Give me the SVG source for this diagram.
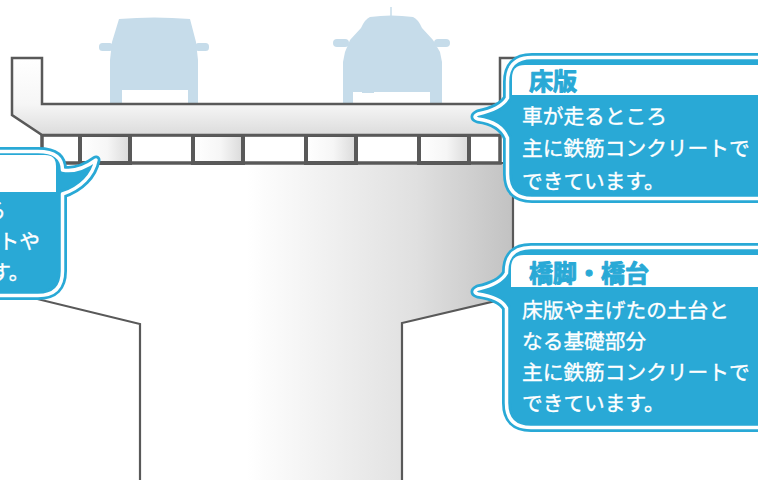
<svg xmlns="http://www.w3.org/2000/svg" width="758" height="480" viewBox="0 0 758 480">
  <defs>
    <linearGradient id="pierFill" gradientUnits="userSpaceOnUse" x1="29" y1="0" x2="513" y2="0">
      <stop offset="0" stop-color="#ffffff"/>
      <stop offset="0.45" stop-color="#ffffff"/>
      <stop offset="0.62" stop-color="#f0f0f0"/>
      <stop offset="0.8" stop-color="#e0e0e0"/>
      <stop offset="1" stop-color="#c2c2c2"/>
    </linearGradient>
    <linearGradient id="deckFill" x1="0" y1="0" x2="0" y2="1">
      <stop offset="0" stop-color="#ffffff"/>
      <stop offset="0.6" stop-color="#f6f6f6"/>
      <stop offset="1" stop-color="#dcdcdc"/>
    </linearGradient>
    <linearGradient id="girderFill" x1="0" y1="0" x2="1" y2="0">
      <stop offset="0" stop-color="#ffffff"/>
      <stop offset="0.55" stop-color="#f6f6f6"/>
      <stop offset="1" stop-color="#dadada"/>
    </linearGradient>
    <style>
      .car { fill: #c6dcea; }
      .line { stroke: #595959; stroke-linejoin: miter; }
      .bubble { fill: #29a9d6; stroke: #29a9d6; stroke-width: 9; stroke-linejoin: round; }
      .rim { fill: none; stroke: #ffffff; stroke-width: 3.5; stroke-linejoin: round; }
      .hdr-band { fill: #ffffff; }
      .hdr { font-family: "Noto Sans CJK JP", "Noto Sans CJK SC", sans-serif; font-weight: 700; font-size: 24px; fill: #29a9d6; stroke: #29a9d6; stroke-width: 1; stroke-linejoin: round; }
      .txt { font-family: "Noto Sans CJK JP", "Noto Sans CJK SC", sans-serif; font-size: 20.7px; fill: #ffffff; stroke: #ffffff; stroke-width: 0.35; }
    </style>
  </defs>

  <rect width="758" height="480" fill="#ffffff"/>

  <!-- vehicles on the deck -->
  <g id="car-left">
    <path class="car" d="M119,19 Q154,16 190,19 L196,42 L198,60 L198,103 L188,103 L188,90 L122,90 L122,103 L110,103 L110,60 L112,42 Z"/>
    <rect class="car" x="99" y="43" width="14" height="8" rx="3.5"/>
    <rect class="car" x="195" y="43" width="14" height="8" rx="3.5"/>
  </g>
  <g id="car-right">
    <line x1="391" y1="7" x2="391" y2="18" stroke="#c6dcea" stroke-width="1.5"/>
    <path class="car" d="M370,17 Q391,14 413,17 Q418,19 422,28 L433,40 L440,52 L442,62 L442,103 L430,103 L430,92 L353,92 L353,103 L343,103 L343,62 L345,52 L350,40 L361,28 Q365,19 370,17 Z"/>
    <rect class="car" x="333" y="39" width="16" height="8" rx="4"/>
    <rect class="car" x="434" y="39" width="16" height="8" rx="4"/>
    <rect class="car" x="362" y="89" width="12" height="4" fill="#ffffff"/>
  </g>

  <!-- pier: column with widened head -->
  <g id="pier">
    <path d="M29,163 H513 V297 L402,323 V482 H140 V324 L29,297 Z" fill="url(#pierFill)" class="line" stroke-width="2.2"/>
  </g>

  <!-- main girders between deck slab and pier -->
  <g id="girders">
    <rect x="42" y="135" width="458" height="28" fill="#ffffff" class="line" stroke-width="3.5"/>
    <rect x="80" y="135" width="50" height="28" fill="url(#girderFill)" class="line" stroke-width="4"/>
    <rect x="193" y="135" width="50" height="28" fill="url(#girderFill)" class="line" stroke-width="4"/>
    <rect x="306" y="135" width="50" height="28" fill="url(#girderFill)" class="line" stroke-width="4"/>
    <rect x="419" y="135" width="50" height="28" fill="url(#girderFill)" class="line" stroke-width="4"/>
  </g>

  <!-- deck slab with parapets -->
  <g id="deck">
    <path d="M12,58 H42 V104 H500 V58 H530 V115 L500,135 H42 L12,115 Z" fill="url(#deckFill)" class="line" stroke-width="2.5"/>
  </g>

  <!-- callout: girders (left, partly outside the frame) -->
  <g id="callout-girder">
    <path class="bubble" d="M-100,151.5 H38 Q62.5,151.5 62.5,170 C73,172 85,168 96,160 C93,175 81,188 62.5,194 V271 Q62.5,295.5 38,295.5 H-100 Z"/>
    <path class="rim" d="M-100,151.5 H38 Q62.5,151.5 62.5,170 C73,172 85,168 96,160 C93,175 81,188 62.5,194 V271 Q62.5,295.5 38,295.5 H-100 Z"/>
    <path class="hdr-band" d="M-100,155 H45 Q56,155 56,166 V192 H-100 Z"/>
    <text class="txt" x="6" y="218" text-anchor="end">る</text>
    <text class="txt" x="40" y="249" text-anchor="end">トや</text>
    <text class="txt" x="29.5" y="280" text-anchor="end">す。</text>
  </g>

  <!-- callout: deck slab -->
  <g id="callout-slab">
    <path class="bubble" d="M532,57.5 H790 V198.5 H532 Q507.5,198.5 507.5,174 V138 C503,127 493,121 478,119 Q472,117 478,114 C492,111 503,106 507.5,98 V82 Q507.5,57.5 532,57.5 Z"/>
    <path class="rim" d="M532,57.5 H790 V198.5 H532 Q507.5,198.5 507.5,174 V138 C503,127 493,121 478,119 Q472,117 478,114 C492,111 503,106 507.5,98 V82 Q507.5,57.5 532,57.5 Z"/>
    <path class="hdr-band" d="M512,95 V78 Q512,65 525,65 H790 V95 Z"/>
    <text class="hdr" x="529" y="89.5">床版</text>
    <text class="txt" x="522" y="124">車が走るところ</text>
    <text class="txt" x="522" y="156">主に鉄筋コンクリートで</text>
    <text class="txt" x="522" y="188.5">できています。</text>
  </g>

  <!-- callout: piers and abutments -->
  <g id="callout-pier">
    <path class="bubble" d="M531,247.5 H790 V427.5 H531 Q506.5,427.5 506.5,403 V308 C502,300 492,296 478,294 Q472,292 478,289 C492,286 502,281 506.5,273 V272 Q506.5,247.5 531,247.5 Z"/>
    <path class="rim" d="M531,247.5 H790 V427.5 H531 Q506.5,427.5 506.5,403 V308 C502,300 492,296 478,294 Q472,292 478,289 C492,286 502,281 506.5,273 V272 Q506.5,247.5 531,247.5 Z"/>
    <path class="hdr-band" d="M511,287 V268 Q511,255 524,255 H790 V287 Z"/>
    <text class="hdr" x="529" y="281.5">橋脚・橋台</text>
    <text class="txt" x="522" y="318">床版や主げたの土台と</text>
    <text class="txt" x="522" y="349">なる基礎部分</text>
    <text class="txt" x="522" y="380">主に鉄筋コンクリートで</text>
    <text class="txt" x="522" y="411">できています。</text>
  </g>
</svg>
